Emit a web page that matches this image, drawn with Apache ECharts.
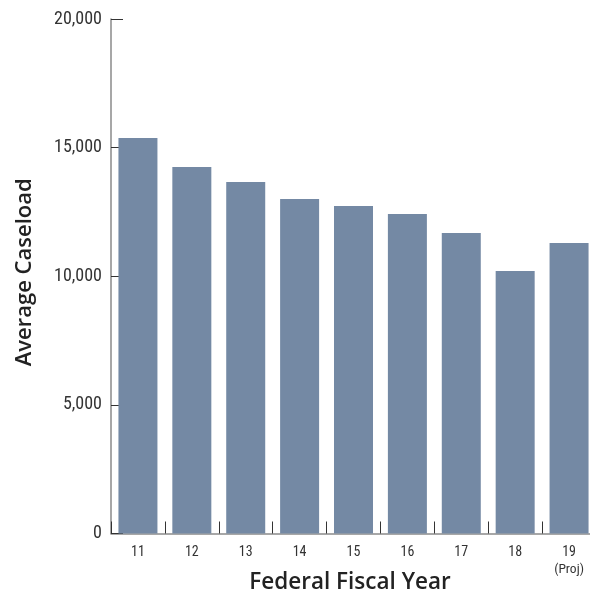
<!DOCTYPE html>
<html>
<head>
<meta charset="utf-8">
<script src="https://cdn.jsdelivr.net/npm/echarts@6/dist/echarts.min.js"></script>
<style>
html,body{margin:0;padding:0;background:#fff;}
#chart{width:590px;height:594px;}
</style>
</head>
<body>
<div id="chart"></div>
<script>
var categories = ['11','12','13','14','15','16','17','18','19'];
var categoryNotes = ['','','','','','','','','(Proj)'];
var caseload = [15370, 14250, 13660, 13000, 12730, 12420, 11680, 10200, 11290];
var yTicks = { min: 0, max: 20000, interval: 5000 };

var narrow = '"Roboto Condensed", "Liberation Sans Narrow", "DejaVu Sans Condensed", Roboto, sans-serif';
var titleFont = '"Open Sans", Roboto, sans-serif';
var chart = echarts.init(document.getElementById('chart'), null, {renderer: 'canvas'});
chart.setOption({
  animation: false,
  grid: { left: 111, top: 19, width: 485, bottom: 60.5, containLabel: false, outerBoundsMode: 'none' },
  xAxis: {
    type: 'category',
    data: categories,
    name: 'Federal Fiscal Year',
    nameLocation: 'middle',
    nameGap: 38,
    nameMoveOverlap: false,
    nameTextStyle: { fontFamily: titleFont, fontSize: 22.5, fontWeight: 600, color: '#222', padding: [0, 7, 0, 0] },
    axisLine: { lineStyle: { color: '#8a8a8a', width: 1.5 } },
    axisTick: { show: true, inside: true, length: 12, interval: 0, lineStyle: { color: '#333', width: 1 } },
    axisLabel: {
      interval: 0, margin: 12, color: '#333', fontFamily: narrow, fontSize: 14,
      formatter: function (v, i) {
        var n = categoryNotes[i];
        return n ? v + '\n{p|' + n + '}' : v;
      },
      rich: { p: { fontFamily: narrow, fontSize: 13.5, color: '#333', lineHeight: 20 } }
    },
    splitLine: { show: false }
  },
  yAxis: {
    type: 'value',
    min: yTicks.min, max: yTicks.max, interval: yTicks.interval,
    name: 'Average Caseload',
    nameLocation: 'middle',
    nameGap: 75,
    nameMoveOverlap: false,
    nameRotate: 90,
    nameTextStyle: { fontFamily: titleFont, fontSize: 22, fontWeight: 600, color: '#222', padding: [0, 0, 0, 8] },
    axisLine: { show: true, lineStyle: { color: '#8a8a8a', width: 1.5 } },
    axisTick: { show: true, inside: true, length: 12, lineStyle: { color: '#333', width: 1 } },
    axisLabel: {
      margin: 9, color: '#333', fontFamily: narrow, fontSize: 18,
      formatter: function (v) { return v.toLocaleString('en-US'); }
    },
    splitLine: { show: false }
  },
  series: [{
    type: 'bar',
    data: caseload,
    barWidth: 39,
    itemStyle: { color: '#7489a4' }
  }]
});
</script>
</body>
</html>
